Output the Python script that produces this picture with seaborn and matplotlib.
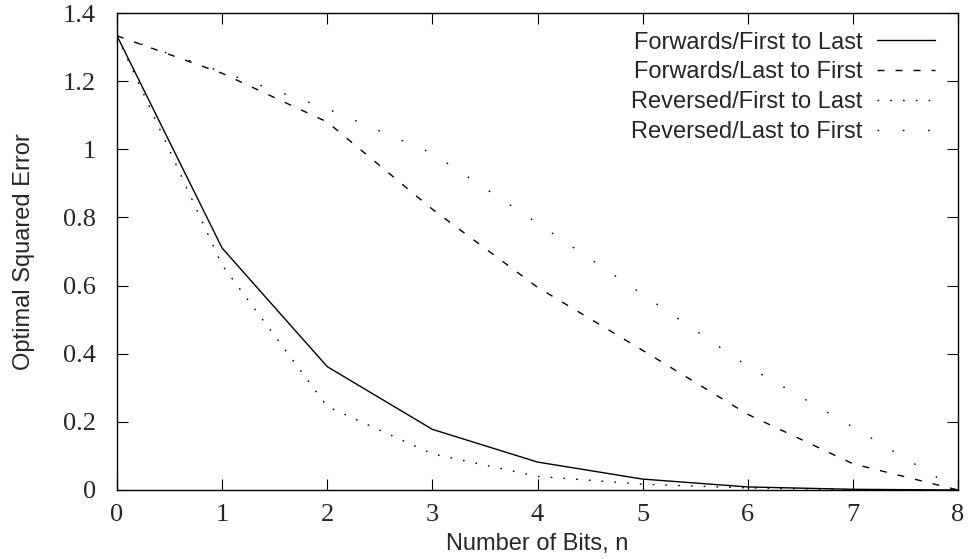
import matplotlib
matplotlib.use("Agg")
import matplotlib.pyplot as plt
import seaborn as sns
import pandas as pd

bits = [0, 1, 2, 3, 4, 5, 6, 7, 8]
fwd_first_to_last = [1.333, 0.71, 0.362, 0.178, 0.082, 0.032, 0.009, 0.002, 0.0]
fwd_last_to_first = [1.333, 1.223, 1.08, 0.824, 0.595, 0.41, 0.222, 0.077, 0.0]
rev_first_to_last = [1.333, 0.66, 0.245, 0.106, 0.040, 0.017, 0.006, 0.001, 0.0]
rev_last_to_first = [1.333, 1.227, 1.119, 0.988, 0.783, 0.574, 0.363, 0.185, 0.0]
labels = ["Forwards/First to Last", "Forwards/Last to First",
          "Reversed/First to Last", "Reversed/Last to First"]
x_ticks = [0, 1, 2, 3, 4, 5, 6, 7, 8]
y_ticks = [0, 0.2, 0.4, 0.6, 0.8, 1.0, 1.2, 1.4]
y_tick_labels = ["0", "0.2", "0.4", "0.6", "0.8", "1", "1.2", "1.4"]

sns.set_style("ticks")
plt.rcParams['font.family'] = ['Liberation Sans', 'DejaVu Sans']

fig = plt.figure(figsize=(9.68, 5.59), dpi=100)
ax = fig.add_axes([117/968, 69/559, (958-117)/968, (490-13)/559])

series = [fwd_first_to_last, fwd_last_to_first, rev_first_to_last, rev_last_to_first]
styles = ["-", (0, (5.0, 8.0)), (0, (1.2, 8.0)), (0, (1.2, 17.0))]
lw = 1.0
for vals, lab, ls in zip(series, labels, styles):
    df = pd.DataFrame({"n": bits, "err": vals})
    sns.lineplot(data=df, x="n", y="err", ax=ax, color="black",
                 linewidth=lw, linestyle=ls, label=lab)

ax.set_xlim(0, 8)
ax.set_ylim(0, 1.4)
ax.set_xticks(x_ticks)
ax.set_xticklabels([str(t) for t in x_ticks])
ax.set_yticks(y_ticks)
ax.set_yticklabels(y_tick_labels)
for lab in ax.get_xticklabels() + ax.get_yticklabels():
    lab.set_family(['Liberation Serif', 'DejaVu Serif'])
    lab.set_fontsize(19)
ax.tick_params(direction="in", length=8, width=0.8, top=True, right=True,
               color="black")
ax.tick_params(axis="x", pad=10)
ax.tick_params(axis="y", pad=15)
for s in ax.spines.values():
    s.set_visible(True)
    s.set_color("black")
    s.set_linewidth(1.0)

ax.set_xlabel("Number of Bits, n", fontsize=17, labelpad=5)
ax.set_ylabel("Optimal Squared Error", fontsize=17, labelpad=20)

leg = ax.legend(loc="upper right", frameon=False, markerfirst=False,
                fontsize=17, handlelength=2.45, handletextpad=0.64,
                labelspacing=0.33, borderaxespad=0.0, borderpad=0.4,
                bbox_to_anchor=(0.984, 0.981))
for t in leg.get_texts():
    t.set_ha("right")

fig.savefig("out.png", dpi=100)
